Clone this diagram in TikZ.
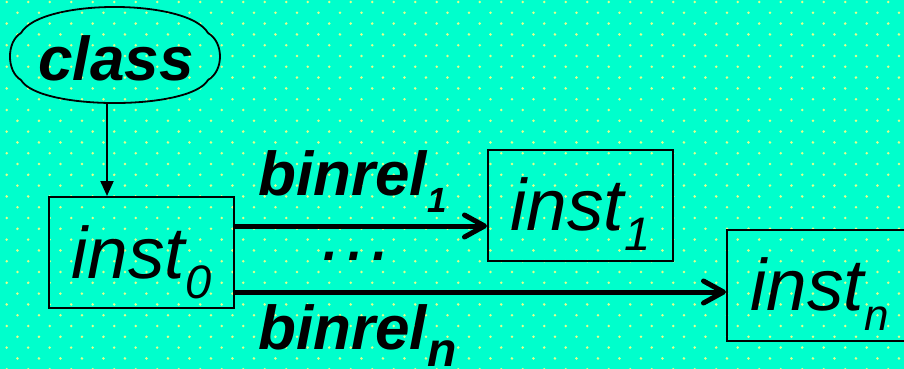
\documentclass[tikz,border=0pt]{standalone}
\usepackage{fontspec}
\setmainfont{Liberation Sans}
\usepackage{tikz}
\usetikzlibrary{arrows.meta}

\definecolor{fondo}{RGB}{0,255,204}
\definecolor{punto}{RGB}{225,255,140}

\newcommand\lowsub[3]{\raisebox{-#1pt}{\fontsize{#2}{#2}\selectfont #3}}

\begin{document}
\begin{tikzpicture}[x=1pt, y=-1pt,
    box/.style={draw, line width=2pt, inner sep=0pt, minimum width=185pt, minimum height=111pt,
        text height=52pt, text depth=1pt, font=\fontsize{73}{73}\selectfont\itshape},
    lbl/.style={anchor=base west, inner sep=0pt, font=\fontsize{62}{62}\selectfont\bfseries\itshape},
    lnk/.style={line width=2pt, -{Triangle[length=15pt,width=13pt]}},
    rel/.style={line width=5pt, -{Straight Barb[length=20pt,width=22pt,round]}}]

% Fondo
\fill[fondo] (0,0) rectangle (904,369);
\clip (0,0) rectangle (904,369);
\foreach \k in {0,...,34} {
    \foreach \j in {0,...,42} {
        \pgfmathsetmacro\px{6.7+21.5*\j+10.75*mod(\k,2)}
        \fill[punto] (\px,2+10.8*\k) circle(1.4pt);
    }
}

% Nodos
\node[inner sep=0pt, minimum width=210pt, minimum height=90pt, text height=44pt, text depth=0pt,
    font=\fontsize{62}{62}\selectfont\bfseries\itshape] (cls) at (116,58) {class};
\draw[line width=1.8pt] (21,33) .. controls (41,-1.7) and (188,-1.7) .. (208,33)
    .. controls (224,42.2) and (224,70.8) .. (208,80)
    .. controls (190,110.7) and (39,110.7) .. (21,80)
    .. controls (6.3,71.5) and (6.3,41.5) .. cycle;

\node[box] (i0) at (141.5,252.5) {inst\lowsub{20}{47}{0}};
\node[box] (i1) at (580.5,205) {inst\lowsub{20}{47}{1}};
\node[box] (inn) at (819.5,285) {inst\lowsub{20}{44}{n}};

% Conexiones
\draw[lnk] ([xshift=-9pt]cls.south) coordinate (c0) -- (c0 |- i0.north);
\draw[rel] ([yshift=-30pt]i0.north east) coordinate (r1) -- (r1 -| i1.west);
\draw[rel] ([yshift=17pt]i0.south east) coordinate (rn) -- (rn -| inn.west);

% Etiquetas
\node[lbl] (b1) at (258,195) {binrel\lowsub{17}{35}{1}};
\node[lbl] (bn) at (258,349) {binrel\lowsub{17}{48}{n}};
\node[anchor=base, inner sep=0pt, font=\fontsize{78}{78}\selectfont\itshape] (dots) at (356,260) {…};

\end{tikzpicture}
\end{document}
